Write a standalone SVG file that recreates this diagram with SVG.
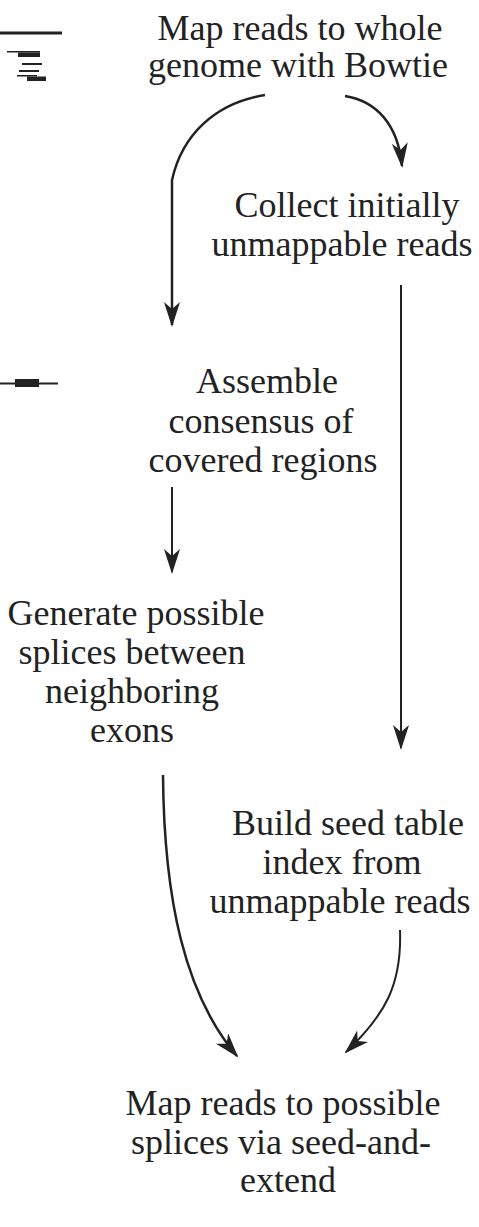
<svg xmlns="http://www.w3.org/2000/svg" width="479" height="1227" viewBox="0 0 479 1227">
<style>
text{font-family:'Liberation Serif','Times New Roman',serif;font-size:36px;fill:#222;text-anchor:middle}
.c{fill:none;stroke:#222;stroke-width:2.5}
.t{fill:none;stroke:#222;stroke-width:2}
</style>
<defs>
<marker id="ah" viewBox="0 0 25 16" refX="23" refY="8" markerWidth="25" markerHeight="16" markerUnits="userSpaceOnUse" orient="auto">
<path d="M0,0 L25,8 L0,16 L7,8 z" fill="#222"/>
</marker>
</defs>
<rect width="479" height="1227" fill="#fff"/>
<g id="glyphs">
<rect x="0" y="31.5" width="62" height="3" fill="#222"/>
<rect x="7" y="51" width="33" height="1.5" fill="#222"/>
<rect x="18" y="52.5" width="22" height="4.5" fill="#222"/>
<rect x="22" y="63" width="20" height="2" fill="#222"/>
<rect x="19" y="70" width="20" height="2" fill="#222"/>
<rect x="17" y="75" width="20" height="1.5" fill="#222"/>
<rect x="27" y="76.5" width="19" height="4.5" fill="#222"/>
<rect x="0" y="382.5" width="58" height="2" fill="#222"/>
<rect x="15" y="379" width="24" height="8" fill="#222"/>
</g>
<g id="n1"><text x="300" y="40">Map reads to whole</text><text x="298" y="77">genome with Bowtie</text></g>
<g id="n2"><text x="347" y="217">Collect initially</text><text x="342" y="256">unmappable reads</text></g>
<g id="n3"><text x="267" y="393">Assemble</text><text x="261" y="433">consensus of</text><text x="263" y="472">covered regions</text></g>
<g id="n4"><text x="136" y="625">Generate possible</text><text x="132" y="664">splices between</text><text x="132" y="703">neighboring</text><text x="132" y="742">exons</text></g>
<g id="n5"><text x="348" y="835">Build seed table</text><text x="342" y="874">index from</text><text x="340" y="913">unmappable reads</text></g>
<g id="n6"><text x="283" y="1115">Map reads to possible</text><text x="281" y="1154">splices via seed-and-</text><text x="288" y="1192">extend</text></g>
<g id="connectors">
<path class="c" d="M265,95 C215,103 182,135 172,180 L172,325" marker-end="url(#ah)"/>
<path class="c" d="M345,96 C376,101 398,124 402,166" marker-end="url(#ah)"/>
<path class="t" d="M401,285 L401,748" marker-end="url(#ah)"/>
<path class="t" d="M172,487 L172,572" marker-end="url(#ah)"/>
<path class="c" d="M163,775 C164,900 185,995 237,1056" marker-end="url(#ah)"/>
<path class="t" d="M400,930 C402,985 385,1015 346,1052" marker-end="url(#ah)"/>
</g>
</svg>
